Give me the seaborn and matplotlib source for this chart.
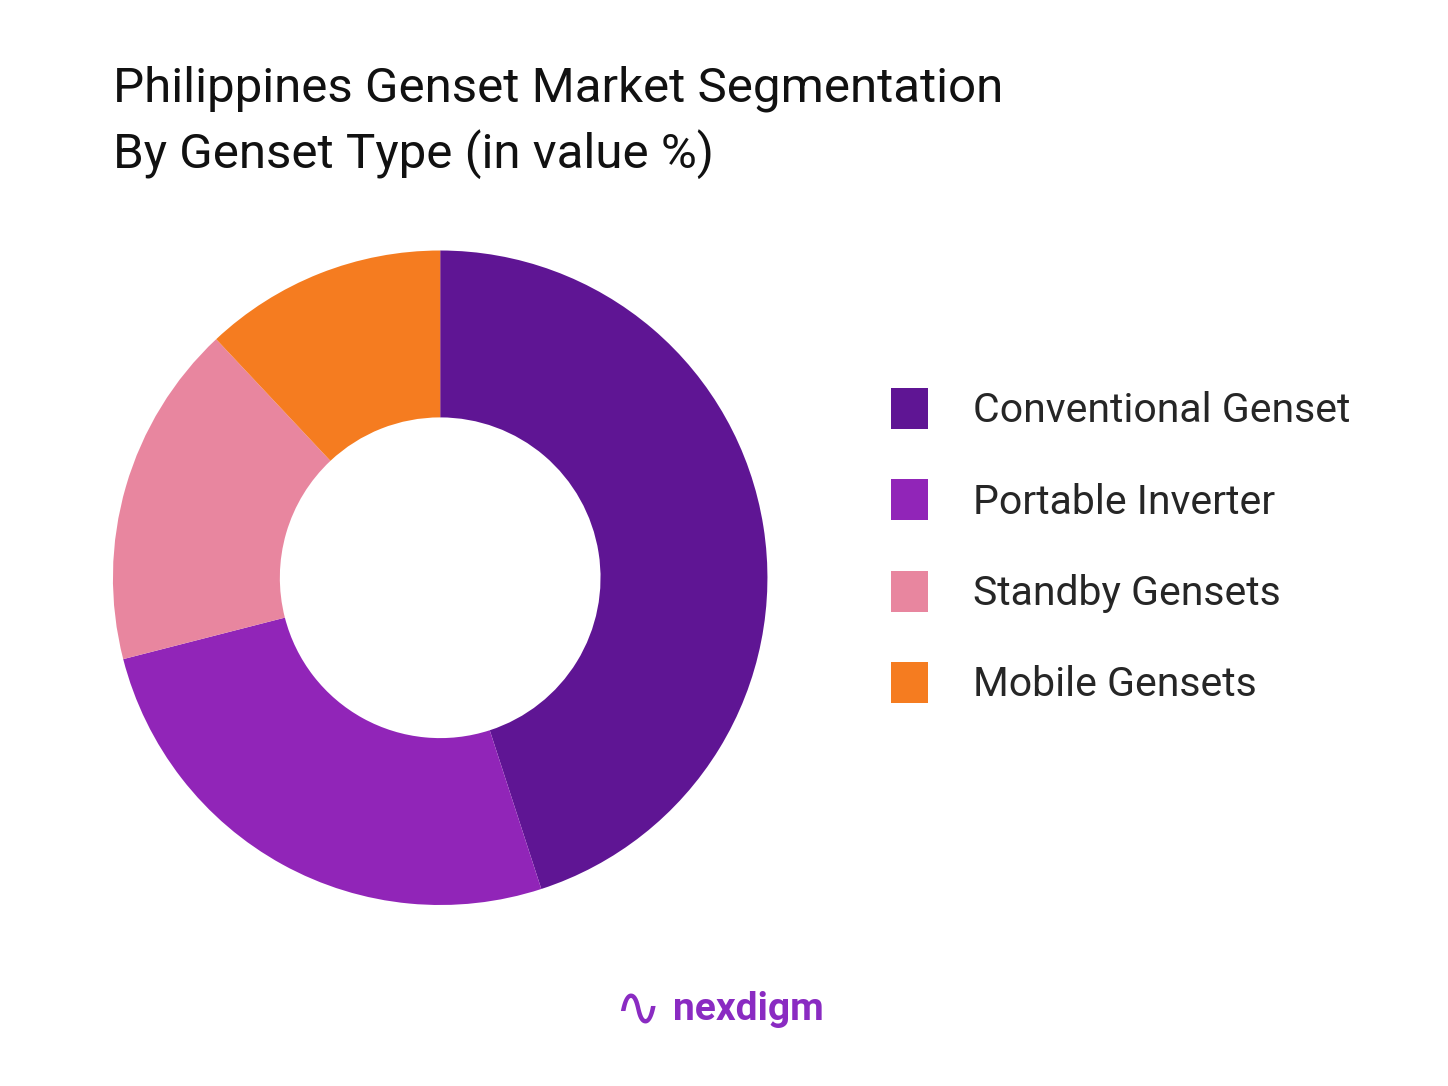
import matplotlib.pyplot as plt
import seaborn as sns
from matplotlib.patches import Patch

sns.set_theme(style='white')
plt.rcParams['font.family'] = ['Roboto', 'DejaVu Sans']

segments = ['Conventional Genset', 'Portable Inverter', 'Standby Gensets', 'Mobile Gensets']
shares = [45, 26, 17, 12]
colors = ['#5F1594', '#9125B8', '#E8869F', '#F57C20']

fig = plt.figure(figsize=(14.48, 10.86), dpi=100)
fig.patch.set_facecolor('white')
ax = fig.add_axes([0.078, 0.163, 0.452, 0.61])
ax.pie(shares, colors=colors, startangle=90, counterclock=False,
       wedgeprops=dict(width=0.51, edgecolor='none'))
ax.set_xlim(-1, 1)
ax.set_ylim(-1, 1)
ax.set_aspect('equal')

fig.text(0.078, 0.94, 'Philippines Genset Market Segmentation\nBy Genset Type (in value %)',
         fontsize=35.5, va='top', ha='left', color='#111111', linespacing=1.45)

handles = [Patch(facecolor=c, edgecolor='none') for c in colors]
fig.legend(handles, segments, loc='center left', bbox_to_anchor=(0.59, 0.497),
           frameon=False, fontsize=29.5, handlelength=0.9, handleheight=1.15,
           handletextpad=1.1, labelspacing=1.2)

fig.text(0.465, 0.07, 'nexdigm', fontsize=28, fontweight='bold', color='#8A2BC2',
         ha='left', va='center')
fig.text(0.44, 0.07, '\u223f', fontsize=40, color='#8A2BC2', ha='center', va='center')

fig.savefig('out.png', dpi=100, facecolor='white')
